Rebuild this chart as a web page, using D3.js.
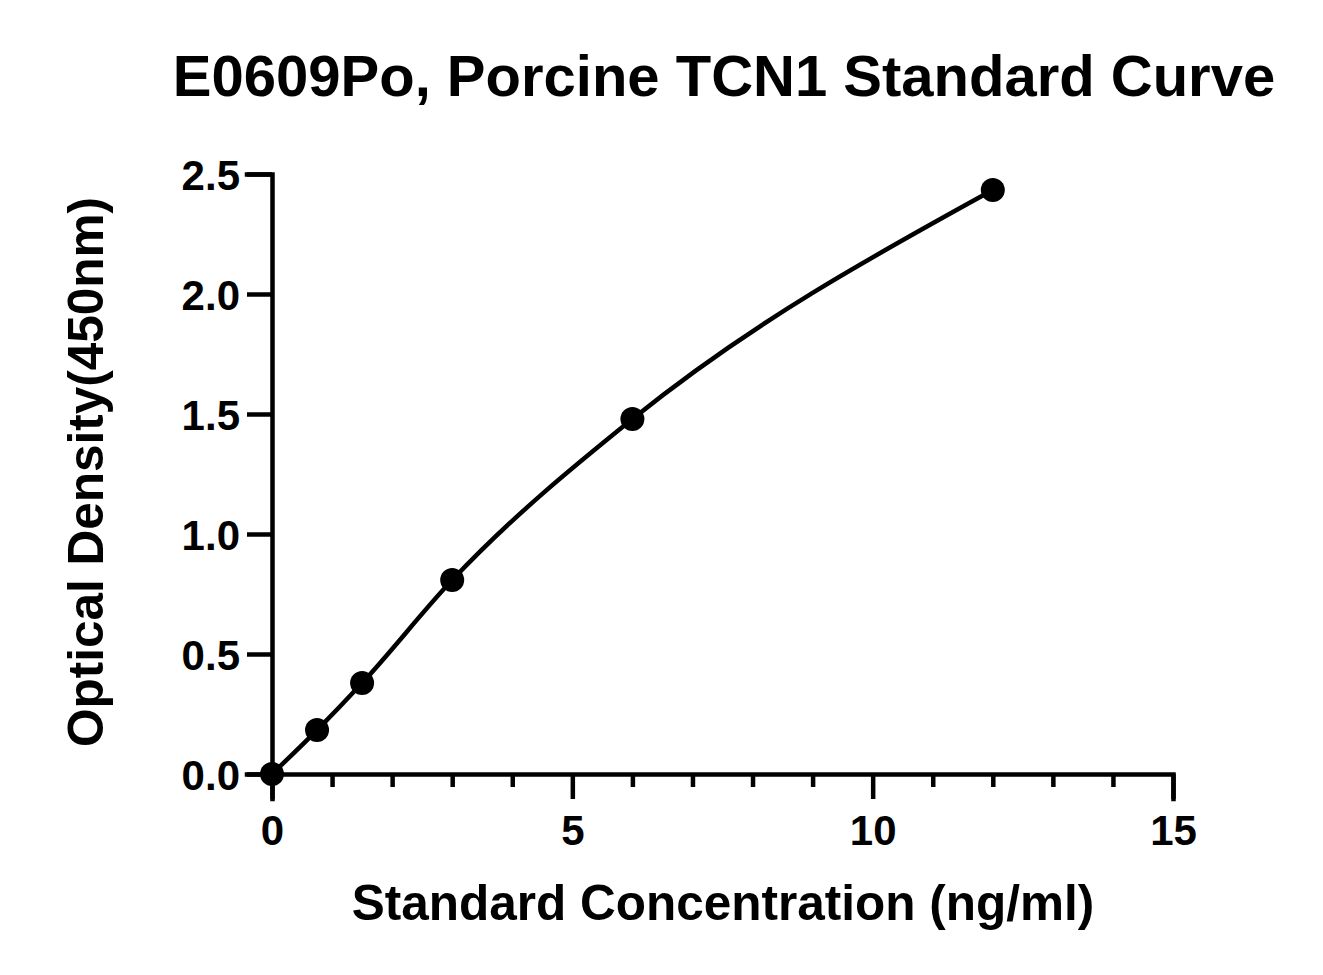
<!DOCTYPE html>
<html>
<head>
<meta charset="utf-8">
<style>
	body { margin: 0; background: #fff; }
	svg text { font-family: "Liberation Sans", Arial, sans-serif; font-weight: bold; fill: #000; }
</style>
</head>
<body>
<svg class="chart"></svg>
<script src="https://d3js.org/d3.v7.min.js"></script>
<script>

var concentration = [0, 0.75, 1.5, 3, 6, 12];
var density = [0.0, 0.183, 0.379, 0.808, 1.479, 2.433];
var xTicks = [0, 5, 10, 15];
var yTicks = [0.0, 0.5, 1.0, 1.5, 2.0, 2.5];

var width = 1323,
	height = 975;

var x = d3.scaleLinear().domain([0, 15]).range([272, 1173]);
var y = d3.scaleLinear().domain([0, 2.5]).range([774, 174]);

var chart = d3.select(".chart")
	.attr("width", width)
	.attr("height", height);

// title
chart.append("text")
	.attr("x", 724)
	.attr("y", 96)
	.attr("text-anchor", "middle")
	.style("font-size", "58px")
	.text("E0609Po, Porcine TCN1 Standard Curve");

// x axis, major + minor ticks
var xAxis = chart.append("g")
	.attr("transform", "translate(0," + y(0) + ")")
	.call(d3.axisBottom(x).tickValues(xTicks).tickSize(25).tickPadding(10).tickFormat(d3.format("d")));

chart.append("g")
	.attr("transform", "translate(0," + y(0) + ")")
	.call(d3.axisBottom(x).tickValues(d3.range(1, 15).filter(function(d) { return d % 5; })).tickSize(13).tickFormat(""))
	.select(".domain").remove();

var yAxis = chart.append("g")
	.attr("transform", "translate(" + x(0) + ",0)")
	.call(d3.axisLeft(y).tickValues(yTicks).tickSize(25).tickPadding(7).tickFormat(d3.format(".1f")));

chart.selectAll(".domain, .tick line")
	.attr("stroke", "#000")
	.attr("stroke-width", 4.5);
chart.selectAll(".domain").attr("stroke-linecap", "square");

chart.selectAll(".tick text")
	.style("font-size", "42px")
	.attr("fill", "#000");
xAxis.selectAll(".tick text").attr("dy", "0.86em");
yAxis.selectAll(".tick text").attr("dy", "0.36em");

// axis titles
chart.append("text")
	.attr("x", 723)
	.attr("y", 920)
	.attr("text-anchor", "middle")
	.style("font-size", "49.5px")
	.text("Standard Concentration (ng/ml)");

chart.append("text")
	.attr("transform", "translate(103,472) rotate(-90)")
	.attr("text-anchor", "middle")
	.style("font-size", "49.5px")
	.text("Optical Density(450nm)");

// fitted curve through the standards
var data = concentration.map(function(c, i) { return { c: c, od: density[i] }; });

var line = d3.line()
	.x(function(d) { return x(d.c); })
	.y(function(d) { return y(d.od); })
	.curve(d3.curveMonotoneX);

chart.append("path")
	.datum(data)
	.attr("fill", "none")
	.attr("stroke", "#000")
	.attr("stroke-width", 4.5)
	.attr("d", line);

chart.selectAll("circle")
	.data(data)
	.enter().append("circle")
	.attr("cx", function(d) { return x(d.c); })
	.attr("cy", function(d) { return y(d.od); })
	.attr("r", 12)
	.attr("fill", "#000");

</script>
</body>
</html>
